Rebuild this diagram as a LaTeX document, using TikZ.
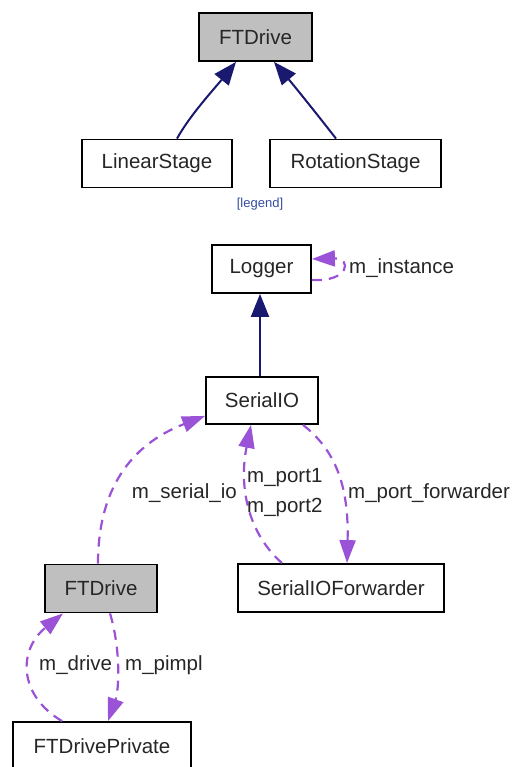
\documentclass[tikz,border=0pt]{standalone}
\usepackage{fontspec}
\setmainfont{Liberation Sans}
\usetikzlibrary{arrows.meta}

\definecolor{usecol}{RGB}{154,82,214}
\definecolor{inhcol}{RGB}{25,25,112}
\definecolor{boxgrey}{RGB}{191,191,191}
\definecolor{legendcol}{RGB}{52,76,160}

\begin{document}
\begin{tikzpicture}[x=1pt,y=-1pt,
  cls/.style={draw=black, line width=1.8pt, rectangle, inner sep=0pt,
    minimum height=48pt, font=\fontsize{20.5}{24}\selectfont, text=black!85},
  cur/.style={cls, fill=boxgrey},
  inherit/.style={draw=inhcol, line width=2pt,
    -{Triangle[length=23pt,width=18pt]}, color=inhcol},
  uses/.style={draw=usecol, line width=2.2pt, dash pattern=on 10pt off 7pt,
    -{Triangle[length=23pt,width=16pt]}, color=usecol},
  lbl/.style={font=\fontsize{20.5}{24}\selectfont, text=black!85, inner sep=0pt}
]
\useasboundingbox (0,0) rectangle (516,767);

% inheritance graph
\node[cur, minimum width=113pt] (top) at (255.5,37) {FTDrive};
\node[cls, minimum width=150pt] (lin) at (157,163.5) {LinearStage};
\node[cls, minimum width=171pt] (rot) at (355.5,163.5) {RotationStage};
\node[font=\fontsize{13}{15}\selectfont, text=legendcol, inner sep=0pt] (legend) at (260,204) {[legend]};

\draw[inherit] ([xshift=20pt]lin.north) .. controls (190,115) and (215,88) .. ([xshift=-19.5pt]top.south);
\draw[inherit] ([xshift=-19.5pt]rot.north) .. controls (320,118) and (296,88) .. ([xshift=18.5pt]top.south);

% collaboration graph
\node[cls, minimum width=99pt] (logger) at (261.5,269) {Logger};
\node[cls, minimum width=112pt, minimum height=47pt] (sio) at (262,400.5) {SerialIO};
\node[cls, minimum width=206pt] (fwd) at (341,588) {SerialIOForwarder};
\node[cur, minimum width=112pt] (drv) at (101,588.5) {FTDrive};
\node[cls, minimum width=178pt] (priv) at (102,746) {FTDrivePrivate};

\draw[inherit] (sio.north -| 260,0) -- (logger.south -| 260,0);

\draw[uses] ([yshift=-11pt]logger.east) .. controls (350,282) and (352,258) .. ([yshift=10pt]logger.east);
\node[lbl, anchor=west] (linst) at (349,268) {m\_instance};

\draw[uses] ([xshift=-3pt]drv.north) .. controls (98,490) and (130,445) .. ([yshift=9pt]sio.south west);
\node[lbl, anchor=east] (lsio) at (237,493) {m\_serial\_io};

\draw[uses] ([xshift=-59pt]fwd.north) .. controls (250,535) and (238,490) .. ([xshift=-11pt]sio.south);
\node[lbl, anchor=west] (lp1) at (247,478) {m\_port1};
\node[lbl, anchor=west] (lp2) at (247,507) {m\_port2};

\draw[uses] ([xshift=41pt]sio.south) .. controls (335,450) and (349,485) .. ([xshift=6pt]fwd.north);
\node[lbl, anchor=west] (lpf) at (348,493) {m\_port\_forwarder};

\draw[uses] ([xshift=-40pt]priv.north) .. controls (18,695) and (18,650) .. ([xshift=-38pt]drv.south);
\node[lbl, anchor=west] (ldrv) at (39,665) {m\_drive};

\draw[uses] ([xshift=9pt]drv.south) .. controls (121,650) and (119,690) .. ([xshift=6pt]priv.north);
\node[lbl, anchor=west] (lpim) at (125,665) {m\_pimpl};
\end{tikzpicture}
\end{document}
